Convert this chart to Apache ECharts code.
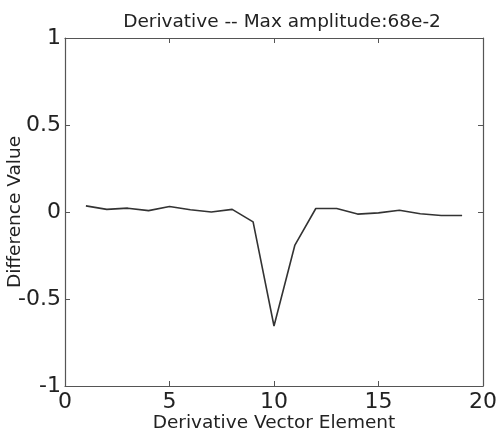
<!DOCTYPE html>
<html>
<head>
<meta charset="utf-8">
<script src="https://cdn.jsdelivr.net/npm/echarts@6/dist/echarts.min.js"></script>
<style>
  html, body { margin: 0; padding: 0; background: #fff; }
  #chart { width: 497px; height: 434px; }
</style>
</head>
<body>
<div id="chart"></div>
<script>
const elements = [1, 2, 3, 4, 5, 6, 7, 8, 9, 10, 11, 12, 13, 14, 15, 16, 17, 18, 19];
const diffValues = [0.035, 0.015, 0.022, 0.008, 0.032, 0.013, 0.0, 0.015, -0.057, -0.655,
  -0.19, 0.02, 0.02, -0.012, -0.005, 0.01, -0.01, -0.02, -0.02];
const xTicks = [0, 5, 10, 15, 20];
const yTicks = [-1, -0.5, 0, 0.5, 1];

const chart = echarts.init(document.getElementById('chart'));
const font = 'DejaVu Sans, sans-serif';
const ink = '#222';

const boxAxis = {
  axisLine: { show: true, onZero: false, lineStyle: { color: '#555', width: 1.2 } },
  axisTick: { show: true, inside: true, length: 5, lineStyle: { color: '#555' } },
  splitLine: { show: false }
};

const option = {
  backgroundColor: '#fff',
  animation: false,
  title: {
    text: 'Derivative -- Max amplitude:68e-2',
    left: 277,
    top: 8,
    textAlign: 'center',
    textStyle: { fontFamily: font, fontSize: 18.5, fontWeight: 'normal', color: ink }
  },
  grid: { left: 65, right: 14, top: 38, bottom: 48, outerBoundsMode: 'none', containLabel: false },
  xAxis: [
    Object.assign({}, boxAxis, {
      type: 'value', min: xTicks[0], max: xTicks[xTicks.length - 1], interval: 5,
      name: 'Derivative Vector Element', nameLocation: 'middle', nameGap: 28,
      nameMoveOverlap: false,
      nameTextStyle: { fontFamily: font, fontSize: 18.5, color: ink },
      axisLabel: { fontFamily: font, fontSize: 22, color: ink, margin: 5 }
    }),
    Object.assign({}, boxAxis, {
      type: 'value', position: 'top', min: 0, max: 20, interval: 5,
      axisLabel: { show: false }
    })
  ],
  yAxis: [
    Object.assign({}, boxAxis, {
      type: 'value', min: yTicks[0], max: yTicks[yTicks.length - 1], interval: 0.5,
      name: 'Difference Value', nameLocation: 'middle', nameGap: 40,
      nameMoveOverlap: false,
      nameTextStyle: { fontFamily: font, fontSize: 18.5, color: ink },
      axisLabel: { fontFamily: font, fontSize: 22, color: ink, margin: 4 }
    }),
    Object.assign({}, boxAxis, {
      type: 'value', position: 'right', min: -1, max: 1, interval: 0.5,
      axisLabel: { show: false }
    })
  ],
  series: [{
    type: 'line',
    data: elements.map((e, i) => [e, diffValues[i]]),
    showSymbol: false,
    lineStyle: { color: '#333', width: 1.6 }
  }]
};
chart.setOption(option);
</script>
</body>
</html>
